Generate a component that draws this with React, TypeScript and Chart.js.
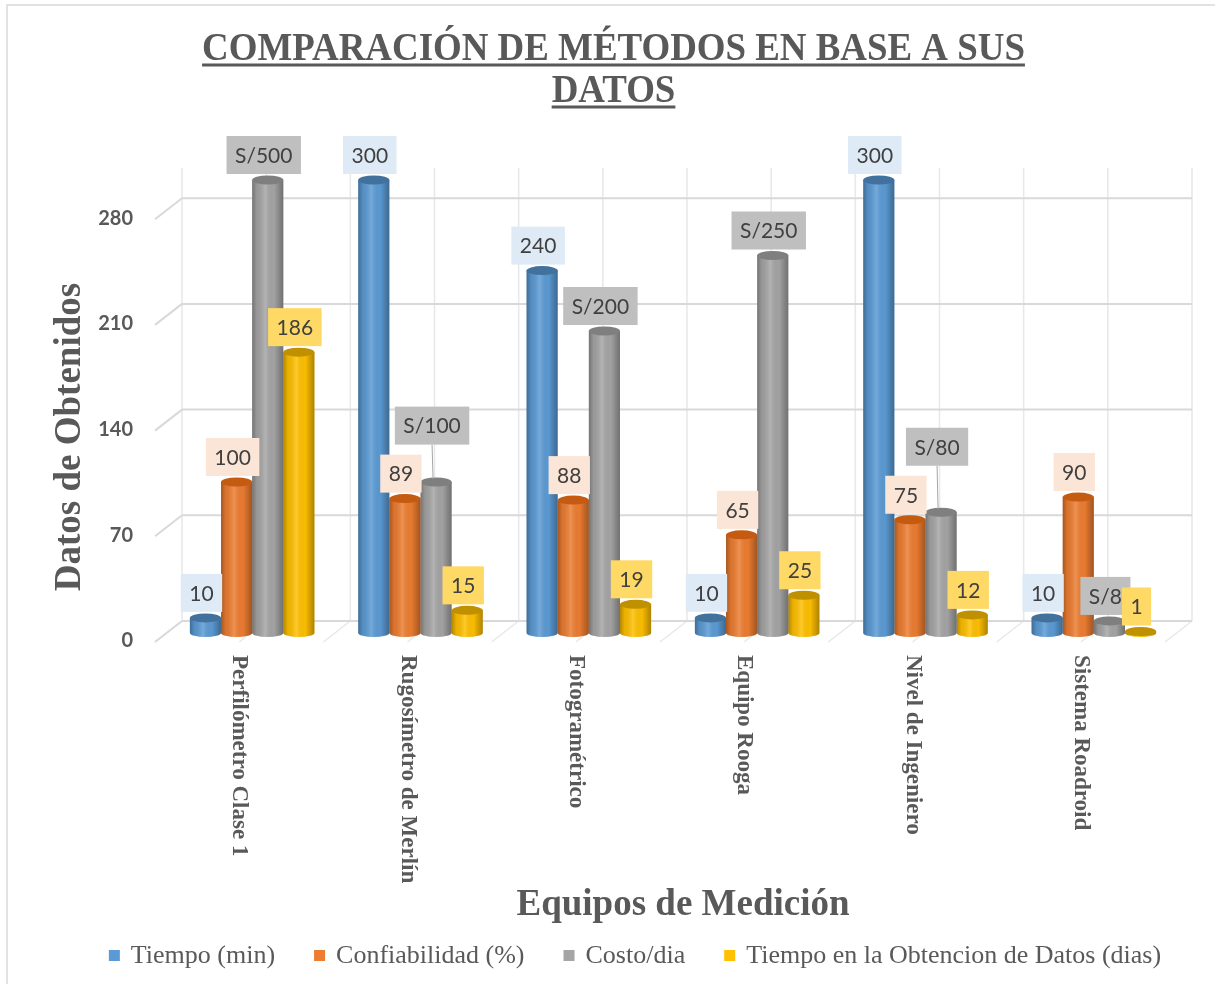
import React, { useEffect, useRef } from "react";
import { Chart, registerables } from "chart.js";

Chart.register(...registerables);

// ---------- data ----------
const categories = [
  "Perfilómetro Clase 1",
  "Rugosímetro de Merlín",
  "Fotogramétrico",
  "Equipo Rooga",
  "Nivel de Ingeniero",
  "Sistema Roadroid",
];
const seriesNames = [
  "Tiempo (min)",
  "Confiabilidad (%)",
  "Costo/dia",
  "Tiempo en la Obtencion de Datos (dias)",
];
const tiempoMin = [10, 300, 240, 10, 300, 10];
const confiabilidad = [100, 89, 88, 65, 75, 90];
const costoDia = [500, 100, 200, 250, 80, 8];
const tiempoObtencion = [186, 15, 19, 25, 12, 1];
const costoPrefix = "S/";
const yTicks = [0, 70, 140, 210, 280];
const yMax = 300;

const titleLines = ["COMPARACIÓN DE MÉTODOS EN BASE A SUS", "DATOS"];
const xTitle = "Equipos de Medición";
const yTitle = "Datos de Obtenidos";

// ---------- styles ----------
const W = 1215;
const H = 984;
const barColors = ["#5B9BD5", "#ED7D31", "#A5A5A5", "#FFC000"];
const capColors = ["#41719C", "#C55A11", "#7F7F7F", "#BF9000"];
const labelFills = ["#DEEBF7", "#FBE5D6", "#BFBFBF", "#FFD966"];
const TEXT = "#595959";
const SERIF = "'Liberation Serif', 'Times New Roman', serif";
const SANS = "Lato, 'Open Sans', sans-serif";
const WALL_DX = 14;
const WALL_DY = -12;
const DEPTH_DX = -27;
const DEPTH_DY = 21;
const PLOT_BOTTOM = 633;
const PAD_BOTTOM = 5;

const decorPlugin = {
  id: "decor",
  beforeDraw(chart: any) {
    const ctx = chart.ctx;
    ctx.save();
    ctx.fillStyle = "#FFFFFF";
    ctx.fillRect(0, 0, chart.width, chart.height);
    ctx.strokeStyle = "#D9D9D9";
    ctx.lineWidth = 1.5;
    ctx.strokeRect(7, 5, chart.width + 20, chart.height + 20);

    // title (condensed serif, underlined)
    ctx.fillStyle = TEXT;
    ctx.font = `bold 41px ${SERIF}`;
    ctx.textAlign = "center";
    ctx.textBaseline = "alphabetic";
    const baselines = [60, 102];
    titleLines.forEach((line, k) => {
      ctx.save();
      ctx.translate(613.5, baselines[k]);
      ctx.scale(0.9, 1);
      ctx.fillText(line, 0, 0);
      const w = ctx.measureText(line).width;
      ctx.fillRect(-w / 2, 3.5, w, 3);
      ctx.restore();
    });

    // y title
    ctx.save();
    ctx.translate(80, 437);
    ctx.rotate(-Math.PI / 2);
    ctx.font = `bold 37px ${SERIF}`;
    ctx.textAlign = "center";
    ctx.textBaseline = "alphabetic";
    ctx.fillText(yTitle, 0, 0);
    ctx.restore();

    // x title
    ctx.font = `bold 37px ${SERIF}`;
    ctx.textAlign = "center";
    ctx.textBaseline = "alphabetic";
    ctx.fillText(xTitle, 683, 915);

    // category labels (rotated, reading downward)
    const xs = chart.scales.x;
    ctx.font = `bold 23px ${SERIF}`;
    ctx.textAlign = "left";
    categories.forEach((c, i) => {
      const px = xs.getPixelForValue(i);
      ctx.save();
      ctx.translate(px - 19, 655);
      ctx.rotate(Math.PI / 2);
      ctx.fillText(c, 0, 0);
      ctx.restore();
    });

    // legend (series from datasets)
    ctx.font = `26px ${SERIF}`;
    ctx.textAlign = "left";
    ctx.textBaseline = "middle";
    const items = chart.data.datasets.map((ds: any, d: number) => ({
      text: ds.label,
      color: barColors[d],
      w: ctx.measureText(ds.label).width,
    }));
    const box = 11;
    const gapBoxText = 11;
    const gapItems = 39;
    const total =
      items.reduce((s: number, it: any) => s + box + gapBoxText + it.w, 0) +
      gapItems * (items.length - 1);
    let lx = 635 - total / 2;
    const ly = 956;
    items.forEach((it: any) => {
      ctx.fillStyle = it.color;
      ctx.fillRect(lx, ly - 6, box, box);
      ctx.fillStyle = TEXT;
      ctx.fillText(it.text, lx + box + gapBoxText, ly);
      lx += box + gapBoxText + it.w + gapItems;
    });
    ctx.restore();
  },
  beforeDatasetsDraw(chart: any) {
    const { ctx, chartArea } = chart;
    const ys = chart.scales.y;
    const n = categories.length;
    const left = chartArea.left + WALL_DX;
    const right = chartArea.right + WALL_DX;
    const top = ys.getPixelForValue(yMax) + WALL_DY;
    const bottom = ys.getPixelForValue(0) + WALL_DY;
    ctx.save();
    ctx.strokeStyle = "#E8E8E8";
    ctx.lineWidth = 1.5;
    for (let k = 0; k <= 2 * n; k++) {
      const px = left + ((right - left) * k) / (2 * n);
      ctx.beginPath();
      ctx.moveTo(px, top);
      ctx.lineTo(px, bottom);
      ctx.moveTo(px, bottom);
      ctx.lineTo(px + DEPTH_DX, bottom + DEPTH_DY);
      ctx.stroke();
    }
    ctx.strokeStyle = "#D9D9D9";
    ctx.lineWidth = 2;
    ys.ticks.forEach((t: any) => {
      const py = ys.getPixelForValue(t.value) + WALL_DY;
      ctx.beginPath();
      ctx.moveTo(left, py);
      ctx.lineTo(right, py);
      ctx.moveTo(left, py);
      ctx.lineTo(left + DEPTH_DX, py + DEPTH_DY);
      ctx.stroke();
    });
    ctx.restore();
  },
  afterDatasetsDraw(chart: any) {
    const { ctx, chartArea } = chart;
    ctx.save();
    // cylinder shading
    chart.data.datasets.forEach((ds: any, d: number) => {
      const meta = chart.getDatasetMeta(d);
      meta.data.forEach((el: any) => {
        const w = el.width;
        const x0 = el.x - w / 2;
        const top = Math.max(el.y, chartArea.top);
        const base = el.base;
        const g = ctx.createLinearGradient(x0, 0, x0 + w, 0);
        g.addColorStop(0, "rgba(0,0,0,0.30)");
        g.addColorStop(0.15, "rgba(0,0,0,0.08)");
        g.addColorStop(0.42, "rgba(255,255,255,0.16)");
        g.addColorStop(0.7, "rgba(0,0,0,0.02)");
        g.addColorStop(1, "rgba(0,0,0,0.32)");
        ctx.beginPath();
        ctx.ellipse(el.x, base, w / 2, 4, 0, 0, Math.PI);
        ctx.fillStyle = barColors[d];
        ctx.fill();
        ctx.fillStyle = g;
        ctx.fill();
        ctx.fillRect(x0, top, w, base - top);
        ctx.beginPath();
        ctx.ellipse(el.x, top, w / 2, 4.5, 0, 0, Math.PI * 2);
        ctx.fillStyle = capColors[d];
        ctx.fill();
      });
    });

    // data labels
    const placed: any[] = [];
    ctx.font = `21px ${SANS}`;
    ctx.textAlign = "center";
    ctx.textBaseline = "middle";
    chart.data.datasets.forEach((ds: any, d: number) => {
      const meta = chart.getDatasetMeta(d);
      meta.data.forEach((el: any, i: number) => {
        const v = ds.data[i];
        const txt = d === 2 ? costoPrefix + v : String(v);
        const tw = ctx.measureText(txt).width;
        const bw = tw + 17;
        const bh = 38;
        const top = Math.max(el.y, chartArea.top);
        const cx = el.x - 4;
        let b = top - 6;
        let leader = false;
        placed.forEach((p) => {
          if (p.i !== i) return;
          const l = cx - bw / 2;
          const r = cx + bw / 2;
          const t = b - bh;
          const ox = Math.min(r, p.r) - Math.max(l, p.l);
          const oy = Math.min(b, p.b) - Math.max(t, p.t);
          if (ox > 0.4 * Math.min(bw, p.r - p.l) && oy > 0) {
            b = p.t - 10;
            leader = true;
          }
        });
        const bx = { i, l: cx - bw / 2, r: cx + bw / 2, t: b - bh, b };
        placed.push(bx);
        if (leader) {
          ctx.strokeStyle = "#A6A6A6";
          ctx.lineWidth = 1;
          ctx.beginPath();
          ctx.moveTo(cx, b);
          ctx.lineTo(el.x - 3, top - 3);
          ctx.stroke();
        }
        ctx.fillStyle = labelFills[d];
        ctx.fillRect(bx.l, bx.t, bw, bh);
        ctx.fillStyle = "#404040";
        ctx.fillText(txt, cx, b - bh / 2 + 1);
      });
    });
    ctx.restore();
  },
};

export default function App() {
  const ref = useRef<HTMLCanvasElement | null>(null);

  useEffect(() => {
    if (!ref.current) return;
    const series = [tiempoMin, confiabilidad, costoDia, tiempoObtencion];
    const chart = new Chart(ref.current, {
      type: "bar",
      data: {
        labels: categories,
        datasets: series.map((vals, d) => ({
          label: seriesNames[d],
          data: vals,
          backgroundColor: barColors[d],
          borderWidth: 0,
          barPercentage: 1.0,
          categoryPercentage: 0.74,
          clip: 0,
        })),
      },
      options: {
        responsive: false,
        animation: false,
        events: [],
        layout: { padding: { top: 180, left: 0, right: 37, bottom: PAD_BOTTOM } },
        plugins: {
          title: { display: false },
          tooltip: { enabled: false },
          legend: { display: false },
        },
        scales: {
          x: {
            grid: { display: false },
            border: { display: false },
            ticks: { display: false },
            afterFit: (axis: any) => {
              axis.height = Math.max(0, H - PLOT_BOTTOM - PAD_BOTTOM);
            },
          },
          y: {
            min: 0,
            max: yMax,
            grid: { display: false, drawTicks: false },
            border: { display: false },
            afterBuildTicks: (axis: any) => {
              axis.ticks = yTicks.map((v) => ({ value: v }));
            },
            afterFit: (axis: any) => {
              axis.width = 168;
            },
            ticks: {
              padding: 35,
              labelOffset: 8,
              color: TEXT,
              font: { family: SANS, size: 20, weight: "bold" },
            },
          },
        },
      },
      plugins: [decorPlugin],
    });
    return () => chart.destroy();
  }, []);

  return (
    <div style={{ position: "absolute", left: 0, top: 0, width: W, height: H, background: "#fff" }}>
      <canvas ref={ref} width={W} height={H} style={{ display: "block", width: W, height: H }} />
    </div>
  );
}
